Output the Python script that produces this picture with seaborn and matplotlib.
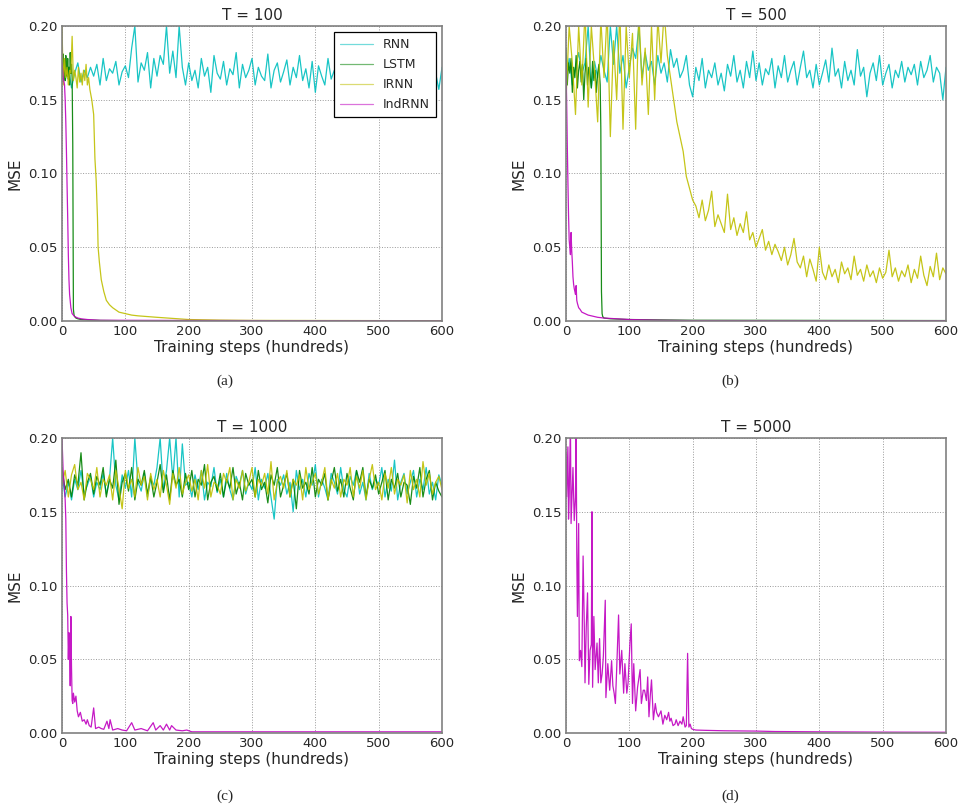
import matplotlib
matplotlib.use("Agg")
import matplotlib.pyplot as plt
import seaborn as sns
import numpy as np
from matplotlib.ticker import FormatStrFormatter

# all MSE values below are stored in thousandths (168 -> 0.168)
steps5 = np.arange(0, 601, 5)  # training steps (hundreds) for the long noisy curves

# ---- (a) T = 100 ----
a_rnn = [170, 163, 172, 158, 168, 175, 162, 170, 165, 172,
         166, 174, 160, 178, 163, 171, 168, 176, 160, 169,
         173, 165, 185, 200, 162, 175, 170, 182, 158, 178,
         166, 180, 174, 200, 168, 183, 165, 200, 172, 160,
         175, 163, 170, 158, 178, 166, 172, 155, 180, 168,
         164, 176, 160, 171, 167, 182, 158, 174, 165, 170,
         178, 160, 172, 166, 163, 181, 158, 170, 175, 162,
         169, 177, 160, 172, 165, 180, 163, 171, 158, 176,
         155, 173, 166, 160, 178, 164, 170, 156, 175, 168,
         162, 180, 166, 171, 158, 174, 165, 169, 177, 160,
         172, 166, 181, 158, 170, 175, 163, 168, 161, 176,
         166, 172, 158, 178, 165, 170, 162, 174, 168, 157,
         172]
a_lstm_x = [0, 1, 2, 3, 4, 5, 6, 7, 8, 9, 10, 11, 12, 13, 14, 15, 16, 17, 18, 19, 20, 22, 25, 30, 40, 60, 100, 600]
a_lstm = [175, 170, 181, 168, 177, 163, 180, 170, 166, 178, 164, 172, 160, 182, 168, 174, 165, 120, 8, 4, 3, 2, 1.5, 1, 0.7, 0.4, 0.2, 0]
a_irnn_x = [0, 2, 4, 6, 8, 10, 12, 14, 16, 18, 20, 22, 24, 26, 28, 30, 32, 34, 36, 38, 40, 42, 44, 47, 50, 52,
            54, 56, 57, 59, 62, 66, 70, 75, 80, 90, 100, 110, 120, 150, 200, 250, 300, 600]
a_irnn = [200, 160, 178, 165, 172, 160, 170, 168, 193, 163, 170, 165, 158, 172, 162, 168, 160, 170, 163, 174, 160, 165, 157, 150, 140, 110,
          95, 70, 50, 40, 28, 20, 14, 11, 9, 6, 5, 4, 3.5, 2.5, 1, 0.6, 0.4, 0.2]
a_ind_x = [0, 2, 4, 5, 6, 7, 8, 9, 10, 11, 12, 14, 16, 20, 25, 30, 40, 60, 600]
a_ind = [175, 165, 160, 150, 135, 115, 92, 70, 45, 28, 18, 9, 5, 3, 2, 1.5, 1, 0.5, 0]

# ---- (b) T = 500 ----
b_rnn = [165, 178, 160, 172, 182, 168, 175, 200, 158, 176,
         165, 180, 170, 162, 200, 174, 200, 168, 180, 158,
         172, 185, 178, 200, 165, 182, 170, 176, 160, 180,
         168, 175, 162, 184, 172, 178, 165, 170, 180, 160,
         152, 172, 163, 178, 158, 170, 165, 175, 160, 168,
         156, 174, 166, 180, 162, 170, 158, 176, 165, 183,
         163, 175, 160, 171, 167, 178, 158, 173, 165, 180,
         162, 170, 176, 160, 172, 183, 165, 170, 158, 174,
         160, 168, 177, 162, 185, 166, 171, 158, 176, 163,
         170, 160, 184, 166, 172, 152, 168, 175, 163, 180,
         160, 168, 174, 158, 170, 165, 176, 162, 172, 167,
         174, 160, 176, 165, 170, 180, 162, 172, 168, 150,
         172]
b_lstm_x = [0, 2, 4, 6, 8, 10, 12, 14, 16, 18, 20, 22, 24, 26, 28, 30, 32, 34, 36, 38, 40, 42, 44, 46, 48, 50, 52, 54,
            55, 56, 57, 58, 60, 70, 100, 200, 600]
b_lstm = [185, 160, 175, 168, 178, 155, 172, 165, 180, 158, 170, 176, 162, 174, 150, 168, 178, 160, 172, 166, 158, 176, 163, 170, 155, 168, 174, 160,
          130, 20, 5, 3, 2, 1.5, 1, 0.5, 0.3]
b_irnn = [150, 200, 175, 140, 200, 160, 210, 145, 200, 170,
          135, 205, 165, 210, 125, 190, 150, 210, 130, 200,
          165, 195, 130, 210, 160, 185, 140, 200, 150, 205,
          175, 210, 180, 165, 150, 135, 125, 115, 98, 90,
          82, 78, 70, 82, 68, 75, 88, 64, 72, 66,
          60, 86, 62, 70, 58, 66, 60, 74, 55, 60,
          50, 56, 62, 48, 54, 45, 52, 47, 41, 50,
          38, 45, 56, 40, 36, 44, 30, 42, 35, 27,
          50, 33, 28, 38, 30, 35, 26, 40, 32, 36,
          28, 44, 31, 35, 27, 38, 30, 34, 26, 36,
          29, 33, 48, 30, 36, 27, 34, 30, 38, 26,
          35, 29, 44, 31, 24, 37, 30, 46, 28, 36,
          32]
b_ind_x = [0, 1, 2, 3, 4, 5, 6, 7, 8, 9, 10, 11, 12, 13, 14, 15, 16, 17, 18, 20, 22, 25, 30, 35, 40, 50, 60, 80, 100, 150, 200, 600]
b_ind = [172, 150, 120, 95, 72, 55, 50, 45, 60, 48, 40, 30, 25, 22, 20, 18, 24, 14, 12, 9, 8, 6, 5, 4, 3.5, 2.5, 2, 1.5, 1, 0.5, 0.3, 0.2]

# ---- (c) T = 1000 ----
c_rnn = [175, 160, 170, 158, 172, 165, 178, 162, 168, 174,
         160, 170, 165, 176, 162, 172, 200, 168, 158, 175,
         166, 178, 160, 200, 170, 164, 176, 160, 172, 168,
         180, 200, 165, 178, 200, 172, 200, 160, 196, 168,
         170, 160, 175, 165, 178, 158, 170, 167, 180, 163,
         172, 160, 176, 165, 158, 174, 168, 178, 162, 170,
         165, 180, 158, 172, 166, 176, 160, 145, 172, 168,
         175, 162, 170, 150, 178, 165, 172, 160, 176, 168,
         182, 160, 172, 166, 158, 176, 170, 162, 180, 165,
         160, 174, 168, 178, 162, 170, 158, 176, 165, 172,
         168, 180, 160, 172, 164, 185, 158, 170, 176, 162,
         170, 178, 160, 172, 165, 180, 162, 170, 158, 175,
         168]
c_lstm = [180, 165, 172, 160, 175, 168, 190, 158, 170, 176,
          162, 174, 168, 180, 160, 172, 166, 185, 155, 170,
          176, 164, 180, 158, 172, 168, 178, 162, 174, 160,
          170, 182, 163, 175, 158, 178, 168, 172, 160, 176,
          165, 178, 160, 172, 168, 182, 158, 170, 174, 164,
          176, 160, 172, 166, 180, 162, 170, 158, 176, 168,
          172, 160, 178, 165, 170, 156, 175, 168, 180, 160,
          168, 176, 160, 172, 152, 178, 166, 170, 162, 180,
          160, 172, 168, 176, 158, 170, 180, 164, 172, 160,
          176, 166, 158, 178, 170, 180, 160, 172, 166, 175,
          162, 170, 178, 158, 172, 166, 176, 160, 170, 168,
          155, 174, 166, 180, 160, 172, 178, 158, 170, 164,
          160]
c_irnn = [168, 178, 160, 175, 182, 165, 170, 158, 176, 172,
          165, 180, 160, 172, 168, 175, 158, 178, 166, 152,
          178, 166, 172, 160, 180, 168, 174, 158, 176, 165,
          172, 160, 178, 168, 155, 176, 166, 180, 162, 170,
          175, 164, 172, 158, 178, 166, 182, 160, 170, 168,
          162, 176, 170, 180, 158, 172, 166, 178, 164, 170,
          180, 160, 172, 168, 176, 162, 184, 158, 170, 174,
          166, 178, 160, 172, 168, 175, 158, 180, 165, 170,
          176, 162, 170, 180, 158, 172, 166, 176, 160, 172,
          168, 180, 160, 174, 166, 178, 158, 172, 182, 165,
          170, 158, 176, 166, 180, 162, 172, 168, 175, 156,
          178, 165, 172, 160, 184, 168, 176, 162, 170, 174,
          165]
c_ind_x = [0, 2, 4, 5, 6, 7, 8, 9, 10, 11, 12, 13, 14, 15, 16, 17, 18, 20, 22, 24,
           26, 29, 32, 35, 38, 40, 43, 46, 50, 53, 58, 62, 66, 71, 74, 76, 80, 88, 95, 102,
           110, 115, 125, 135, 144, 148, 155, 160, 165, 170, 173, 180, 190, 197, 205, 600]
c_ind = [200, 175, 165, 158, 145, 110, 88, 80, 50, 68, 60, 32, 79, 45, 22, 20, 27, 21, 25, 15,
         11, 14, 8, 9, 6, 9, 5, 4, 17, 3, 4, 3, 2.5, 8, 3, 9, 2, 3, 2, 1.5,
         7, 2, 3, 1.5, 7, 2, 5, 2, 6, 2, 5, 2, 1.5, 2, 0.8, 0.8]

# ---- (d) T = 5000 ----
d_ind_x = [0, 1, 3, 4, 5, 7, 8, 11, 13, 15, 16, 17, 18, 20, 21, 23, 25, 27, 29, 30,
           32, 34, 36, 38, 40, 41, 42, 44, 46, 49, 51, 53, 55, 57, 59, 62, 63, 66, 69, 72,
           74, 76, 78, 80, 83, 85, 88, 91, 93, 96, 98, 101, 103, 105, 107, 110, 113, 117, 119, 122,
           124, 127, 129, 131, 133, 135, 138, 141, 143, 146, 150, 153, 156, 159, 162, 164, 166, 169, 172, 174,
           177, 180, 183, 185, 188, 190, 192, 194, 196, 198, 200, 205, 220, 250, 300, 330, 400, 500, 600]
d_ind = [190, 160, 194, 145, 160, 210, 142, 180, 144, 160, 210, 122, 79, 142, 49, 56, 45, 120, 70, 34,
         72, 95, 33, 56, 60, 150, 31, 79, 43, 61, 34, 64, 34, 40, 52, 90, 24, 47, 29, 49,
         32, 27, 20, 43, 80, 40, 56, 27, 47, 27, 34, 61, 74, 20, 47, 15, 31, 43, 20, 29,
         29, 22, 38, 11, 25, 36, 9, 20, 14, 11, 15, 6, 12, 9, 14, 8, 10, 5, 6, 9,
         5, 8, 6, 11, 4, 5, 54, 4, 6, 3, 2.5, 2, 1.8, 1.5, 1.3, 1.0, 0.8, 0.6, 0.5]

names = ["RNN", "LSTM", "IRNN", "IndRNN"]
colors = {"RNN": (0, 0.75, 0.75), "LSTM": (0, 0.5, 0), "IRNN": (0.75, 0.75, 0), "IndRNN": (0.75, 0, 0.75)}

panels = [
    ("T = 100", "(a)", {"RNN": (steps5, a_rnn), "LSTM": (a_lstm_x, a_lstm),
                        "IRNN": (a_irnn_x, a_irnn), "IndRNN": (a_ind_x, a_ind)}),
    ("T = 500", "(b)", {"RNN": (steps5, b_rnn), "LSTM": (b_lstm_x, b_lstm),
                        "IRNN": (steps5, b_irnn), "IndRNN": (b_ind_x, b_ind)}),
    ("T = 1000", "(c)", {"RNN": (steps5, c_rnn), "LSTM": (steps5, c_lstm),
                         "IRNN": (steps5, c_irnn), "IndRNN": (c_ind_x, c_ind)}),
    ("T = 5000", "(d)", {"IndRNN": (d_ind_x, d_ind)}),
]

sns.set_style("white")
plt.rcParams["font.family"] = ["DejaVu Sans"]

W, H = 964, 805
fig = plt.figure(figsize=(W / 100, H / 100), dpi=100)

# axes boxes in pixels: left, top
boxes = [(62, 26), (566, 26), (62, 438), (566, 438)]
cap_pos = [(225, 381), (730, 381), (225, 796), (730, 796)]
aw, ah = 380, 295

for i, (title, cap, series) in enumerate(panels):
    left, top = boxes[i]
    ax = fig.add_axes([left / W, 1 - (top + ah) / H, aw / W, ah / H])
    for name in names:
        if name not in series:
            continue
        xs, ys = series[name]
        sns.lineplot(x=np.asarray(xs, dtype=float), y=np.asarray(ys, dtype=float) / 1000.0,
                     ax=ax, color=colors[name], lw=0.9, alpha=0.9, label=name,
                     estimator=None, sort=False)
    ax.set_xlim(0, 600)
    ax.set_ylim(0, 0.2)
    ax.set_xticks(range(0, 601, 100))
    ax.set_yticks([0, 0.05, 0.1, 0.15, 0.2])
    ax.yaxis.set_major_formatter(FormatStrFormatter("%.2f"))
    ax.grid(True, linestyle=":", color="0.6", linewidth=0.7)
    for sp in ax.spines.values():
        sp.set_color("0.5")
        sp.set_linewidth(1.2)
    ax.tick_params(labelsize=9.5, length=0, pad=3)
    ax.set_xlabel("Training steps (hundreds)", fontsize=11, labelpad=1)
    ax.set_ylabel("MSE", fontsize=11, labelpad=4)
    ax.set_title(title, fontsize=11, pad=4)
    if i == 0:
        leg = ax.legend(loc="upper right", fontsize=9, frameon=True, fancybox=False, framealpha=1,
                        edgecolor="black", handlelength=2.6, borderpad=0.5, labelspacing=0.55)
        leg.get_frame().set_linewidth(0.9)
        for lh in leg.get_lines():
            lh.set_alpha(0.55)
    else:
        lg = ax.get_legend()
        if lg is not None:
            lg.remove()
    fig.text(cap_pos[i][0] / W, 1 - cap_pos[i][1] / H, cap, ha="center", va="center",
             fontsize=11, family=["Liberation Serif", "DejaVu Serif"])

fig.savefig("out.png", dpi=100)
